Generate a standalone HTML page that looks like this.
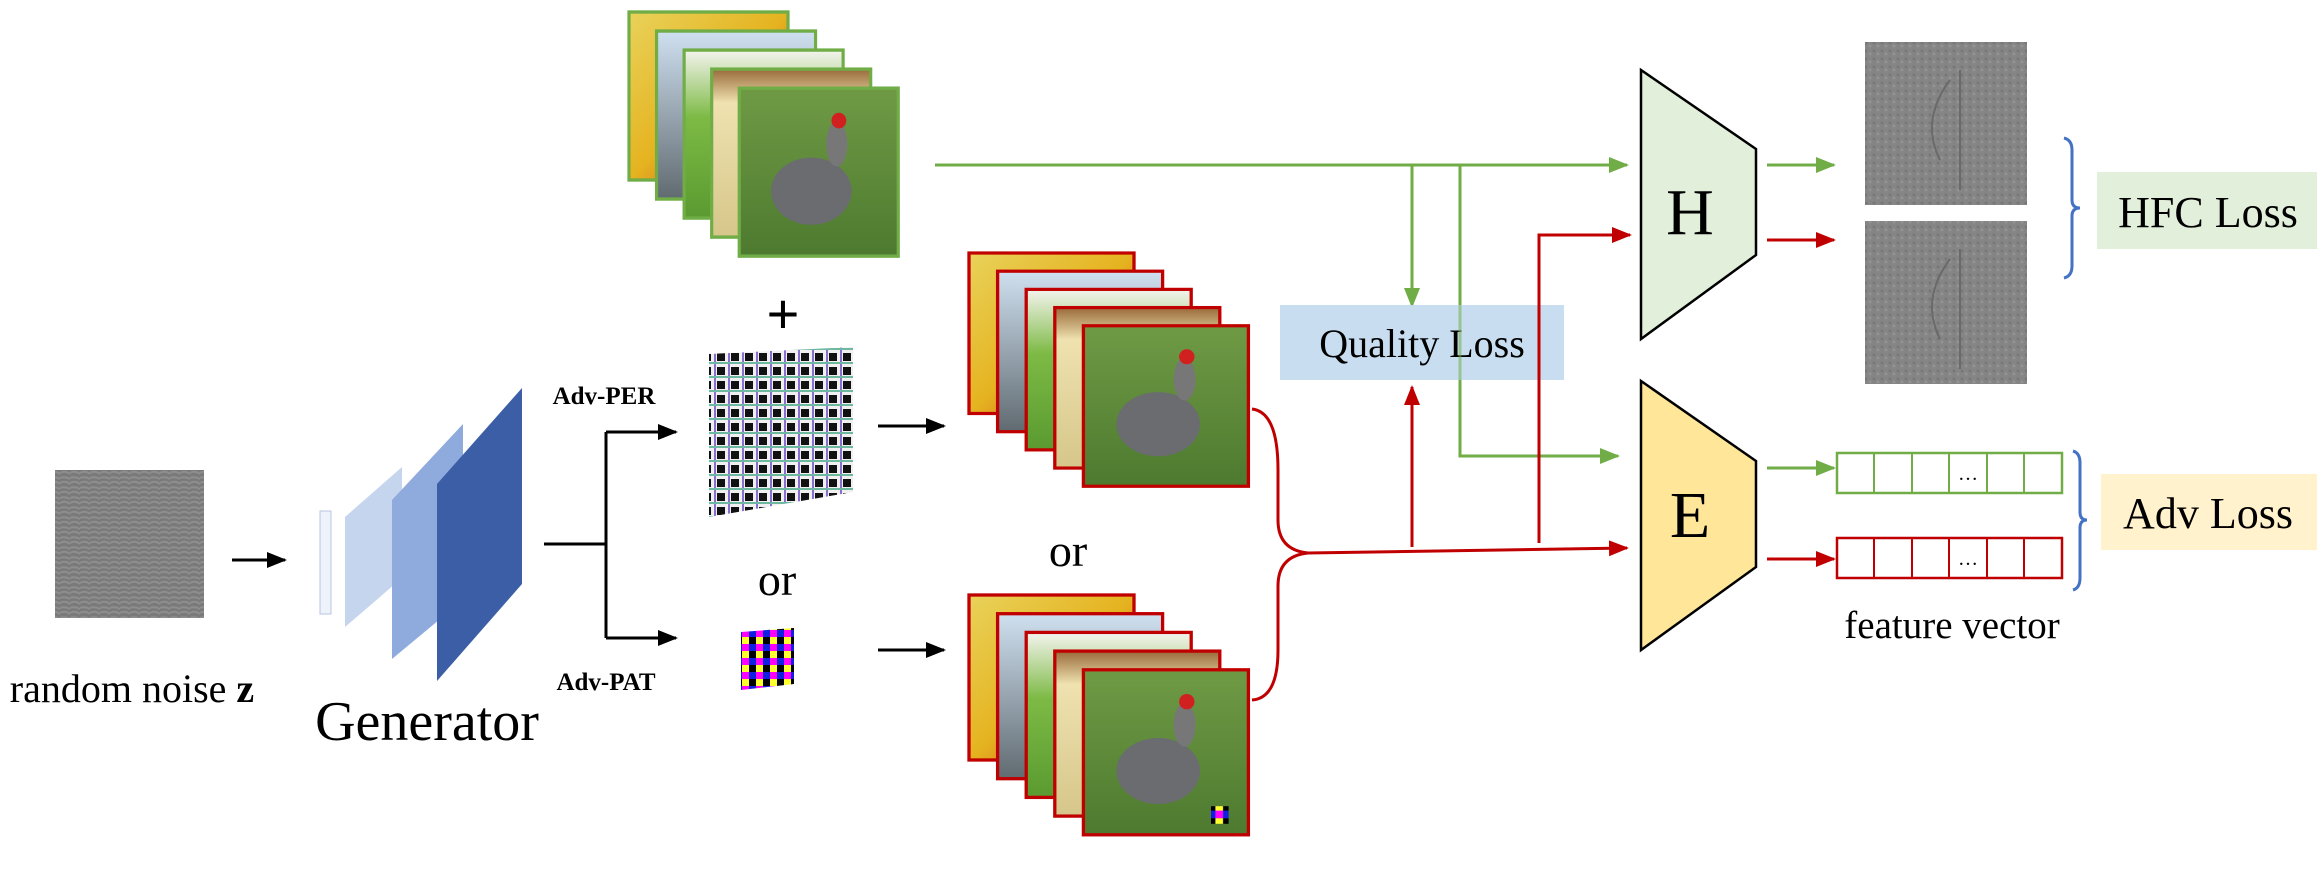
<!DOCTYPE html>
<html><head><meta charset="utf-8"><style>html,body{margin:0;padding:0;background:#fff}svg{display:block}</style></head><body>
<svg width="2317" height="872" viewBox="0 0 2317 872" xmlns="http://www.w3.org/2000/svg" font-family="Liberation Serif, serif">
<defs>
<marker id="ag" markerWidth="20" markerHeight="16" refX="9" refY="4" orient="auto" markerUnits="userSpaceOnUse" viewBox="0 0 10 8"><path d="M0,0L10,4L0,8z" fill="#70ad47"/></marker>
<marker id="ar" markerWidth="20" markerHeight="16" refX="9" refY="4" orient="auto" markerUnits="userSpaceOnUse" viewBox="0 0 10 8"><path d="M0,0L10,4L0,8z" fill="#c00000"/></marker>
<marker id="ak" markerWidth="20" markerHeight="16" refX="9" refY="4" orient="auto" markerUnits="userSpaceOnUse" viewBox="0 0 10 8"><path d="M0,0L10,4L0,8z" fill="#000"/></marker>
<linearGradient id="g1" x1="0" y1="0" x2="1" y2="1"><stop offset="0" stop-color="#e9d25a"/><stop offset=".5" stop-color="#e5b320"/><stop offset="1" stop-color="#c83020"/></linearGradient>
<linearGradient id="g2" x1="0" y1="0" x2="0" y2="1"><stop offset="0" stop-color="#cfe0f0"/><stop offset="1" stop-color="#606a70"/></linearGradient>
<linearGradient id="g3" x1="0" y1="0" x2="0" y2="1"><stop offset="0" stop-color="#f4f4ee"/><stop offset=".4" stop-color="#7dba45"/><stop offset="1" stop-color="#5a9a30"/></linearGradient>
<linearGradient id="g4" x1="0" y1="0" x2="0" y2="1"><stop offset="0" stop-color="#9a6a3a"/><stop offset=".2" stop-color="#efe2b0"/><stop offset="1" stop-color="#d6c68a"/></linearGradient>
<linearGradient id="g5" x1="0" y1="0" x2="0" y2="1"><stop offset="0" stop-color="#6f9a45"/><stop offset="1" stop-color="#4d7a2f"/></linearGradient>
<pattern id="per" width="14" height="14" patternUnits="userSpaceOnUse"><rect width="14" height="14" fill="#f0f0f0"/><rect x="3" y="3" width="8" height="8" fill="#111"/><rect x="0" y="0" width="2" height="14" fill="#8b6fd0"/><rect x="0" y="12" width="14" height="2" fill="#6fb8a0"/></pattern>
<pattern id="pat" width="14" height="14" patternUnits="userSpaceOnUse"><rect width="7" height="7" fill="#ff00ff"/><rect x="7" width="7" height="7" fill="#1020e0"/><rect y="7" width="7" height="7" fill="#ffff30"/><rect x="7" y="7" width="7" height="7" fill="#000"/></pattern>
<pattern id="noise" width="10" height="10" patternUnits="userSpaceOnUse"><rect width="10" height="10" fill="#7a7a7a"/><path d="M0,3Q5,0 10,4M0,8Q5,6 10,9" stroke="#8e8e8e" stroke-width="2" fill="none"/></pattern>
<pattern id="hf" width="8" height="8" patternUnits="userSpaceOnUse"><rect width="8" height="8" fill="#858585"/><circle cx="2" cy="3" r="1.5" fill="#777"/><circle cx="6" cy="6" r="1.5" fill="#939393"/></pattern>
<g id="cards" stroke="currentColor" stroke-width="3">
<rect x="0" y="0" width="150" height="150" fill="url(#g1)"/>
<rect x="26" y="17" width="150" height="150" fill="url(#g2)"/>
<rect x="52" y="34" width="150" height="150" fill="url(#g3)"/>
<rect x="78" y="51" width="150" height="150" fill="url(#g4)"/>
<rect x="104" y="68" width="150" height="150" fill="url(#g5)"/>
<g stroke="none"><ellipse cx="172" cy="160" rx="38" ry="30" fill="#6a6c70"/><ellipse cx="196" cy="118" rx="10" ry="20" fill="#777"/><circle cx="198" cy="97" r="7" fill="#d02020"/></g>
</g>
</defs>

<!-- noise -->
<rect x="55" y="470" width="149" height="148" fill="url(#noise)"/>
<text x="132" y="702" font-size="40" text-anchor="middle">random noise <tspan font-weight="bold">z</tspan></text>
<line x1="232" y1="560" x2="285" y2="560" stroke="#000" stroke-width="3" marker-end="url(#ak)"/>

<!-- generator -->
<rect x="320" y="511" width="11" height="103" fill="#eef2fa" stroke="#b8c6e0"/>
<polygon points="345,517 402,467 402,578 345,627" fill="#c5d5ee"/>
<polygon points="392,500 463,424 463,600 392,659" fill="#8faadc"/>
<polygon points="437,484 522,388 522,584 437,681" fill="#3b5ea6"/>
<text x="427" y="740" font-size="56" text-anchor="middle">Generator</text>

<!-- branch -->
<path d="M544,544 H606 M606,432 V638" stroke="#000" stroke-width="3" fill="none"/>
<line x1="606" y1="432" x2="676" y2="432" stroke="#000" stroke-width="3" marker-end="url(#ak)"/>
<line x1="606" y1="638" x2="676" y2="638" stroke="#000" stroke-width="3" marker-end="url(#ak)"/>
<text x="604" y="404" font-size="25" font-weight="bold" text-anchor="middle">Adv-PER</text>
<text x="606" y="690" font-size="25" font-weight="bold" text-anchor="middle">Adv-PAT</text>

<!-- top clean stack -->
<g transform="translate(629,12) scale(1.06,1.12)" color="#70ad47"><use href="#cards"/></g>

<text x="783" y="333" font-size="56" text-anchor="middle" font-family="Liberation Sans, sans-serif">+</text>
<polygon points="709,354 853,347 853,492 709,517" fill="url(#per)"/>
<text x="777" y="595" font-size="46" text-anchor="middle">or</text>
<polygon points="741,632 794,628 794,684 741,690" fill="url(#pat)"/>

<line x1="878" y1="426" x2="944" y2="426" stroke="#000" stroke-width="3" marker-end="url(#ak)"/>
<line x1="878" y1="650" x2="944" y2="650" stroke="#000" stroke-width="3" marker-end="url(#ak)"/>

<!-- red stacks -->
<g transform="translate(969,253) scale(1.1,1.07)" color="#c00000"><use href="#cards"/></g>
<text x="1068" y="566" font-size="46" text-anchor="middle">or</text>
<g transform="translate(969,595) scale(1.1,1.1)" color="#c00000"><use href="#cards"/>
<rect x="220" y="192" width="16" height="16" fill="url(#pat)"/></g>

<!-- green lines -->
<line x1="935" y1="165" x2="1627" y2="165" stroke="#70ad47" stroke-width="3" marker-end="url(#ag)"/>
<line x1="1412" y1="165" x2="1412" y2="306" stroke="#70ad47" stroke-width="3" marker-end="url(#ag)"/>
<path d="M1460,165 V456 H1600" stroke="#70ad47" stroke-width="3" fill="none"/>
<line x1="1590" y1="456" x2="1618" y2="456" stroke="#70ad47" stroke-width="3" marker-end="url(#ag)"/>

<!-- quality loss -->
<rect x="1280" y="305" width="284" height="75" fill="#c5dcef" opacity="0.95"/>
<text x="1422" y="357" font-size="40" text-anchor="middle">Quality Loss</text>
<line x1="1460" y1="305" x2="1460" y2="380" stroke="#70ad47" stroke-width="3" opacity="0.5"/>

<!-- red lines -->
<path d="M1252,409 Q1278,412 1278,470 V520 Q1278,550 1308,553 Q1278,556 1278,586 V650 Q1278,698 1252,700" stroke="#c00000" stroke-width="3" fill="none"/>
<line x1="1308" y1="553" x2="1627" y2="548" stroke="#c00000" stroke-width="3" marker-end="url(#ar)"/>
<line x1="1412" y1="547" x2="1412" y2="387" stroke="#c00000" stroke-width="3" marker-end="url(#ar)"/>
<path d="M1539,543 V235 H1600" stroke="#c00000" stroke-width="3" fill="none"/>
<line x1="1590" y1="235" x2="1630" y2="235" stroke="#c00000" stroke-width="3" marker-end="url(#ar)"/>

<!-- H and E -->
<polygon points="1641,70 1756,149 1756,255 1641,339" fill="#e2efda" stroke="#000" stroke-width="2.5"/>
<text x="1690" y="234" font-size="66" text-anchor="middle">H</text>
<polygon points="1641,381 1756,461 1756,567 1641,650" fill="#ffe699" stroke="#000" stroke-width="2.5"/>
<text x="1690" y="537" font-size="66" text-anchor="middle">E</text>

<line x1="1767" y1="165" x2="1834" y2="165" stroke="#70ad47" stroke-width="3" marker-end="url(#ag)"/>
<line x1="1767" y1="240" x2="1834" y2="240" stroke="#c00000" stroke-width="3" marker-end="url(#ar)"/>
<line x1="1767" y1="468" x2="1834" y2="468" stroke="#70ad47" stroke-width="3" marker-end="url(#ag)"/>
<line x1="1767" y1="559" x2="1834" y2="559" stroke="#c00000" stroke-width="3" marker-end="url(#ar)"/>

<!-- HFC images -->
<rect x="1865" y="42" width="162" height="163" fill="url(#hf)"/>
<rect x="1865" y="221" width="162" height="163" fill="url(#hf)"/>
<g stroke="#6a6a6a" stroke-width="2" fill="none"><path d="M1950,80 Q1920,120 1940,160 M1960,70 V190"/><path d="M1950,259 Q1920,299 1940,339 M1960,249 V369"/></g>

<!-- feature vectors -->
<rect x="1837" y="453" width="225" height="40" fill="#fff" stroke="#70ad47" stroke-width="2.5"/>
<g stroke="#70ad47" stroke-width="2"><line x1="1874" y1="453" x2="1874" y2="493"/><line x1="1912" y1="453" x2="1912" y2="493"/><line x1="1949" y1="453" x2="1949" y2="493"/><line x1="1987" y1="453" x2="1987" y2="493"/><line x1="2024" y1="453" x2="2024" y2="493"/></g>
<rect x="1837" y="538" width="225" height="40" fill="#fff" stroke="#c00000" stroke-width="2.5"/>
<g stroke="#c00000" stroke-width="2"><line x1="1874" y1="538" x2="1874" y2="578"/><line x1="1912" y1="538" x2="1912" y2="578"/><line x1="1949" y1="538" x2="1949" y2="578"/><line x1="1987" y1="538" x2="1987" y2="578"/><line x1="2024" y1="538" x2="2024" y2="578"/></g>
<text x="1968" y="480" font-size="20" text-anchor="middle">…</text>
<text x="1968" y="565" font-size="20" text-anchor="middle">…</text>
<text x="1952" y="638" font-size="39" text-anchor="middle">feature vector</text>

<!-- braces -->
<path d="M2064,138 Q2072,140 2072,150 V200 Q2072,208 2080,208 Q2072,208 2072,216 V266 Q2072,276 2064,278" stroke="#4472c4" stroke-width="3" fill="none"/>
<path d="M2073,451 Q2080,453 2080,463 V512 Q2080,520 2087,520 Q2080,520 2080,528 V578 Q2080,588 2073,590" stroke="#4472c4" stroke-width="3" fill="none"/>

<rect x="2097" y="172" width="220" height="77" fill="#e2efda"/>
<text x="2208" y="227" font-size="44" text-anchor="middle">HFC Loss</text>
<rect x="2101" y="474" width="216" height="76" fill="#fff2cc"/>
<text x="2208" y="528" font-size="44" text-anchor="middle">Adv Loss</text>
</svg>
</body></html>
